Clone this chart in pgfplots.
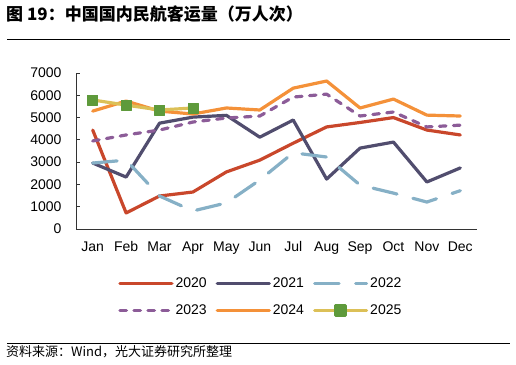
\documentclass[border=0pt]{standalone}
\usepackage{pgfplots}
\pgfplotsset{compat=1.18}
\usepackage{fontspec}
\setmainfont{Liberation Sans}
\newfontfamily\cjk{Noto Sans CJK SC}
\definecolor{c2020}{HTML}{C9472B}
\definecolor{c2021}{HTML}{514D6E}
\definecolor{c2022}{HTML}{86B0C6}
\definecolor{c2023}{HTML}{8C5C98}
\definecolor{c2024}{HTML}{F49139}
\definecolor{c2025}{HTML}{DCC057}
\definecolor{m2025}{HTML}{5E9A3B}
\begin{document}
\begin{tikzpicture}
\path[use as bounding box] (0,0) rectangle (516pt,364pt);
\node[anchor=west,inner sep=0pt] at (6pt,350pt) {\cjk\bfseries\fontsize{17}{20}\selectfont 图 19：中国国内民航客运量（万人次）};
\draw[line width=1pt] (7pt,324.5pt) -- (510pt,324.5pt);
\draw[line width=1pt] (7pt,21pt) -- (510pt,21pt);
\node[anchor=west,inner sep=0pt] at (6pt,12pt) {\cjk\fontsize{13}{15}\selectfont 资料来源：Wind，光大证券研究所整理};
\begin{axis}[
  at={(76pt,135pt)}, anchor=south west,
  scale only axis, width=401pt, height=156pt,
  xmin=-0.5, xmax=11.5, ymin=0, ymax=7000,
  axis lines=left, axis line style={-, line width=0.8pt, black!80},
  tick align=inside, major tick length=4pt,
  tick style={line width=0.8pt, black!80},
  xtick={0,...,11},
  xticklabels={Jan,Feb,Mar,Apr,May,Jun,Jul,Aug,Sep,Oct,Nov,Dec},
  x tick style={draw=none},
  extra x ticks={-0.5,0.5,...,11.5},
  extra x tick labels={},
  extra x tick style={tick style={line width=0.8pt, black!80}},
  ytick={0,1000,...,7000},
  /pgf/number format/1000 sep={},
  /pgf/number format/assume math mode=true,
  tick label style={font=\fontsize{14}{16}\selectfont},
  yticklabel style={xshift=-11pt},
  xticklabel style={yshift=-9pt},
  legend columns=3,
  legend style={at={(0.461,-0.436)}, anchor=center, draw=none, fill=none,
    font=\fontsize{14}{16}\selectfont, row sep=12pt,
    /tikz/every even column/.append style={column sep=7pt}},
  legend cell align=left,
  legend image code/.code={\draw[#1] plot coordinates {(0pt,0pt) (26pt,0pt) (52pt,0pt)};},
  every axis plot/.append style={line width=3.2pt, line join=round},
]
\addplot[c2020, line cap=round, mark=none] coordinates {(0,4440) (1,720) (2,1480) (3,1660) (4,2560) (5,3090) (6,3850) (7,4580) (8,4780) (9,5000) (10,4440) (11,4220)};
\addlegendentry{2020}
\addplot[c2021, line cap=round, mark=none] coordinates {(0,2960) (1,2330) (2,4750) (3,5020) (4,5100) (5,4120) (6,4890) (7,2240) (8,3630) (9,3900) (10,2110) (11,2740)};
\addlegendentry{2021}
\addplot[c2022, line cap=round, dash pattern=on 24.5pt off 16.5pt, mark=none] coordinates {(0,2960) (1,3090) (2,1480) (3,810) (4,1170) (5,2200) (6,3420) (7,3230) (8,1970) (9,1610) (10,1210) (11,1720)};
\addlegendentry{2022}
\addplot[c2023, line cap=round, dash pattern=on 6.5pt off 7.5pt, mark=none] coordinates {(0,3950) (1,4220) (2,4440) (3,4800) (4,4980) (5,5070) (6,5920) (7,6050) (8,5070) (9,5250) (10,4580) (11,4660)};
\addlegendentry{2023}
\addplot[c2024, line cap=round, mark=none] coordinates {(0,5290) (1,5740) (2,5290) (3,5160) (4,5430) (5,5340) (6,6320) (7,6640) (8,5430) (9,5830) (10,5110) (11,5070)};
\addlegendentry{2024}
\addplot[c2025, line cap=round, mark=square*, mark size=5pt, mark options={fill=m2025, draw=m2025, line width=0.5pt}, legend image code/.code={\draw[c2025, line width=3.2pt, line cap=round] (0pt,0pt) -- (52pt,0pt); \fill[m2025] (21pt,-5pt) rectangle (31pt,5pt);}] coordinates {(0,5790) (1,5560) (2,5340) (3,5430)};
\addlegendentry{2025}
\end{axis}
\end{tikzpicture}
\end{document}
